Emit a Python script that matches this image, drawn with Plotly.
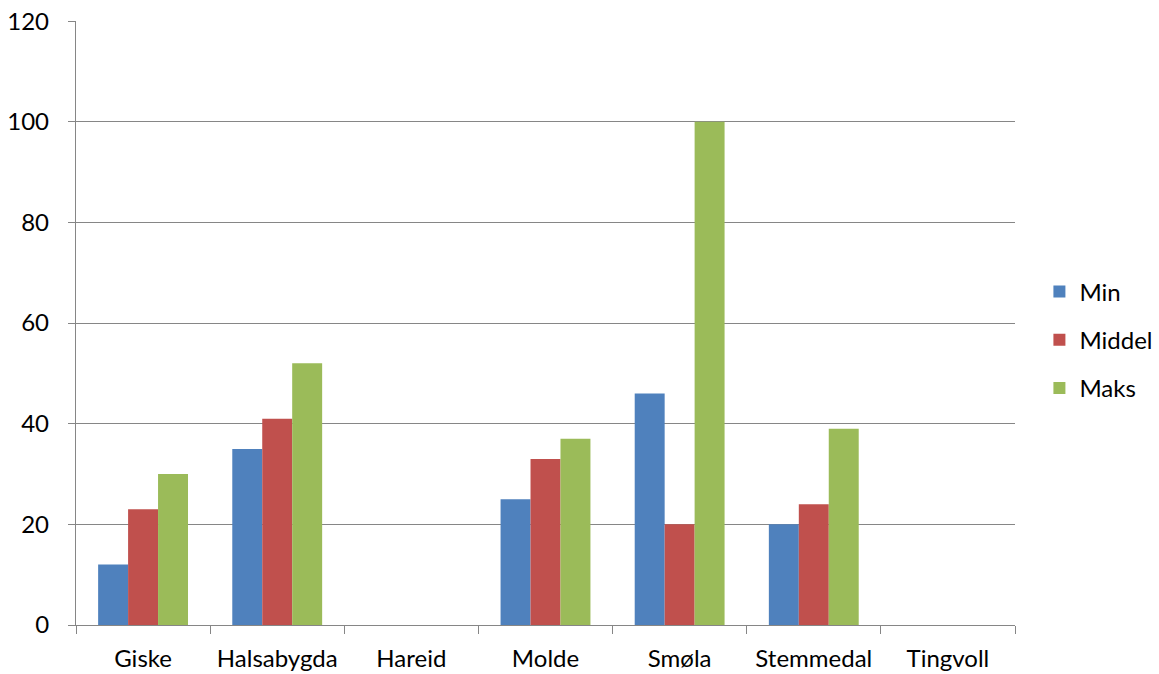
import plotly.graph_objects as go

categories = ["Giske", "Halsabygda", "Hareid", "Molde", "Smøla", "Stemmedal", "Tingvoll"]
min_vals = [12, 35, None, 25, 46, 20, None]
middel_vals = [23, 41, None, 33, 20, 24, None]
maks_vals = [30, 52, None, 37, 100, 39, None]
series = [("Min", min_vals, "#4F81BD"), ("Middel", middel_vals, "#C0504D"), ("Maks", maks_vals, "#9BBB59")]
y_ticks = [0, 20, 40, 60, 80, 100, 120]

fig = go.Figure()
for name, vals, color in series:
    fig.add_trace(go.Bar(x=categories, y=vals, name=name, marker_color=color,
                         marker_line_width=0, legendgroup=name))

font = dict(family="Lato, Carlito, 'Open Sans', sans-serif", size=24, color="#000000")
fig.update_layout(
    width=1159, height=674,
    margin=dict(l=76, r=144, t=21, b=49, autoexpand=False),
    paper_bgcolor="white", plot_bgcolor="white",
    barmode="group", bargap=0.33, bargroupgap=0,
    font=font,
    legend=dict(x=1.026, y=0.472, xanchor="left", yanchor="middle",
                tracegroupgap=14, font=dict(size=24), itemwidth=30),
    xaxis=dict(showline=True, linecolor="#868686", linewidth=1.3, ticks="outside",
               tickson="boundaries", ticklen=8, tickcolor="#868686", showgrid=False,
               ticklabelstandoff=12, automargin=False),
    yaxis=dict(range=[0, 120.03], tickvals=y_ticks, showline=True, linecolor="#868686",
               linewidth=1.3, ticks="outside", ticklen=7, tickcolor="#868686",
               gridcolor="#868686", gridwidth=1.3, zeroline=False, ticklabelstandoff=14,
               automargin=False, ticklabeloverflow="allow"),
)
fig.write_html("out.html", config={"displayModeBar": False},
               post_script="document.body.style.margin='0';document.body.style.overflow='hidden';")
